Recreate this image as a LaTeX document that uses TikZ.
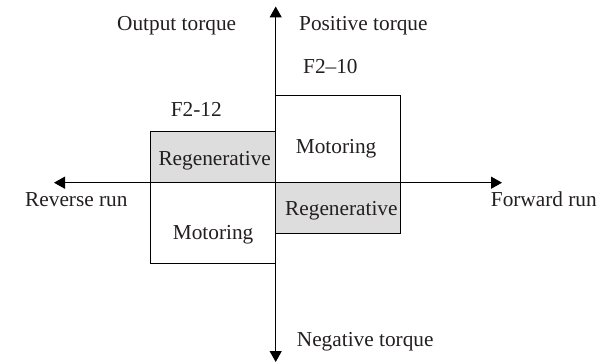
\documentclass[tikz,border=0pt]{standalone}
\usepackage{fontspec}
\setmainfont{Liberation Serif}
\usepackage{tikz}
\usetikzlibrary{arrows.meta}

\definecolor{regen}{RGB}{221,221,221}
\definecolor{inkc}{RGB}{35,31,32}

\tikzset{
  quadbox/.style={draw, line width=1.4pt, inner sep=0pt, outer sep=0pt},
  axis/.style={line width=1.3pt, {Triangle[length=11pt,width=12pt]}-{Triangle[length=11pt,width=12pt]}},
  lbl/.style={inner sep=0pt, anchor=base west, text=inkc, font=\fontsize{21.3}{25}\selectfont}
}

\begin{document}
\begin{tikzpicture}[x=1pt, y=-1pt]
  \useasboundingbox (0,0) rectangle (609,363);

  % Origine e assi
  \coordinate (o) at (275.7,182.7);
  \coordinate (xl) at (54,182.7);
  \coordinate (xr) at (502,182.7);
  \coordinate (yt) at (275.7,6.5);
  \coordinate (yb) at (275.7,362);

  % Quadranti
  \node [quadbox, minimum width=124.6pt, minimum height=87.4pt, anchor=south west] (motfwd) at (o) {};
  \node [quadbox, fill=regen, minimum width=124.6pt, minimum height=51pt, anchor=north west] (regfwd) at (o) {};
  \node [quadbox, fill=regen, minimum width=125.4pt, minimum height=51pt, anchor=south east] (regrev) at (o) {};
  \node [quadbox, minimum width=125.4pt, minimum height=81pt, anchor=north east] (motrev) at (o) {};

  \draw [axis] (xl) -- (xr);
  \draw [axis] (yb) -- (yt);

  % Testi nei quadranti
  \node [lbl] (tmotfwd) at (295.7,153.3) {Motoring};
  \node [lbl] (tregfwd) at (285,215.7) {Regenerative};
  \node [lbl] (tregrev) at (158.3,166) {Regenerative};
  \node [lbl] (tmotrev) at (172.7,239.3) {Motoring};

  % Parametri
  \node [lbl] (pten) at (303,74) {F2--10};
  \node [lbl] (ptwelve) at (170.7,116.7) {F2-12};

  % Etichette degli assi
  \node [lbl] (outtq) at (117,31) {Output torque};
  \node [lbl] (postq) at (299,31) {Positive torque};
  \node [lbl] (negtq) at (296.7,346.7) {Negative torque};
  \node [lbl] (revrun) at (25,206.7) {Reverse run};
  \node [lbl] (fwdrun) at (490.7,206.7) {Forward run};
\end{tikzpicture}
\end{document}
